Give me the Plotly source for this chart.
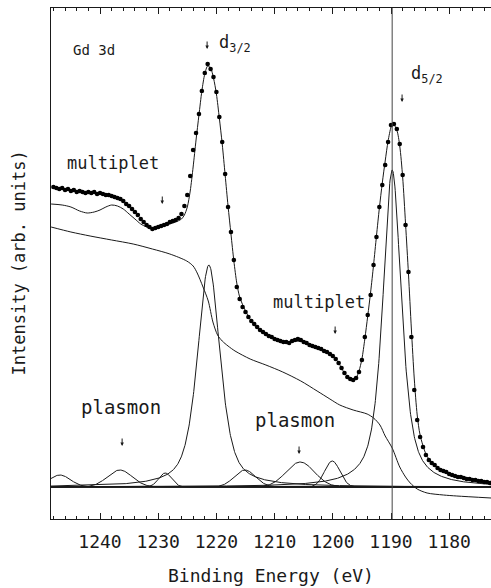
import numpy as np
import plotly.graph_objects as go

# ---------------- data ----------------
energy_ev = [
    1248.0, 1247.5, 1247.0, 1246.5, 1246.0, 1245.5, 1245.0, 1244.5, 1244.0, 1243.5,
    1243.0, 1242.5, 1242.0, 1241.5, 1241.0, 1240.5, 1240.0, 1239.5, 1239.0, 1238.5,
    1238.0, 1237.5, 1237.0, 1236.5, 1236.0, 1235.5, 1235.0, 1234.5, 1234.0, 1233.5,
    1233.0, 1232.5, 1232.0, 1231.5, 1231.0, 1230.5, 1230.0, 1229.5, 1229.0, 1228.5,
    1228.0, 1227.5, 1227.0, 1226.5, 1226.0, 1225.5, 1225.0, 1224.5, 1224.0, 1223.5,
    1223.0, 1222.5, 1222.0, 1221.5, 1221.0, 1220.5, 1220.0, 1219.5, 1219.0, 1218.5,
    1218.0, 1217.5, 1217.0, 1216.5, 1216.0, 1215.5, 1215.0, 1214.5, 1214.0, 1213.5,
    1213.0, 1212.5, 1212.0, 1211.5, 1211.0, 1210.5, 1210.0, 1209.5, 1209.0, 1208.5,
    1208.0, 1207.5, 1207.0, 1206.5, 1206.0, 1205.5, 1205.0, 1204.5, 1204.0, 1203.5,
    1203.0, 1202.5, 1202.0, 1201.5, 1201.0, 1200.5, 1200.0, 1199.5, 1199.0, 1198.5,
    1198.0, 1197.5, 1197.0, 1196.5, 1196.0, 1195.5, 1195.0, 1194.5, 1194.0, 1193.5,
    1193.0, 1192.5, 1192.0, 1191.5, 1191.0, 1190.5, 1190.0, 1189.5, 1189.0, 1188.5,
    1188.0, 1187.5, 1187.0, 1186.5, 1186.0, 1185.5, 1185.0, 1184.5, 1184.0, 1183.5,
    1183.0, 1182.5, 1182.0, 1181.5, 1181.0, 1180.5, 1180.0, 1179.5, 1179.0, 1178.5,
    1178.0, 1177.5, 1177.0, 1176.5, 1176.0, 1175.5, 1175.0, 1174.5, 1174.0, 1173.5,
    1173.0,
]
intensity = [
    300, 299, 298, 299, 297, 298, 296, 297, 295, 296,
    295, 294, 295, 294, 295, 293, 294, 293, 292, 292,
    291, 290, 289, 288, 286, 283, 281, 278, 275, 272,
    268, 265, 262, 260, 258, 259, 260, 261, 262, 263,
    265, 266, 267, 269, 273, 281, 292, 311, 337, 354,
    373, 396, 414, 423, 418, 410, 395, 370, 345, 313,
    280, 255, 227, 200, 188, 180, 175, 170, 166, 163,
    160, 157, 155, 153, 151, 150, 148, 147, 146, 145,
    145, 144, 146, 147, 148, 147, 145, 144, 142, 141,
    140, 139, 138, 136, 135, 133, 131, 128, 124, 119,
    114, 110, 108, 107, 109, 115, 127, 150, 172, 192,
    222, 250, 280, 302, 322, 345, 362, 363, 358, 343,
    312, 262, 215, 150, 97, 67, 50, 40, 32, 27,
    24, 22, 19, 17, 16, 15, 13, 12, 11, 10,
    10, 9, 8, 8, 7, 7, 6, 6, 5, 5,
    4,
]

fit_energy = [
    1248.4, 1246.5, 1245.0, 1243.5, 1242.2, 1241.0, 1240.0, 1239.0, 1238.0, 1237.0,
    1236.0, 1235.0, 1234.0, 1233.0, 1232.0, 1231.0, 1230.0, 1229.0, 1228.0, 1227.0,
    1226.0, 1225.5, 1225.0, 1224.5, 1224.0, 1223.5, 1223.0, 1222.5, 1222.0, 1221.5,
    1221.0, 1220.5, 1220.0, 1219.5, 1219.0, 1218.5, 1218.0, 1217.5, 1217.0, 1216.5,
    1216.0, 1215.0, 1214.0, 1213.0, 1212.0, 1210.0, 1208.0, 1206.5, 1205.0, 1203.0,
    1201.0, 1200.0, 1199.0, 1198.0, 1197.0, 1196.5, 1196.0, 1195.5, 1195.0, 1194.5,
    1194.0, 1193.5, 1193.0, 1192.5, 1192.0, 1191.5, 1191.0, 1190.5, 1190.0, 1189.7,
    1189.0, 1188.5, 1188.0, 1187.5, 1187.0, 1186.5, 1186.0, 1185.5, 1185.0, 1184.0,
    1183.0, 1182.0, 1180.0, 1178.0, 1176.0, 1172.8,
]
fit_intensity = [
    283, 282, 280, 276, 274, 275, 277, 280, 282, 281,
    278, 273, 268, 263, 260, 258, 259, 261, 263, 265,
    268, 272, 280, 296, 320, 347, 372, 396, 413, 421,
    419, 409, 393, 369, 343, 312, 281, 253, 226, 204,
    190, 176, 166, 160, 155, 149, 145, 146, 145, 140,
    135, 131, 124, 114, 108, 107, 109, 116, 128, 148,
    171, 195, 222, 251, 279, 304, 326, 346, 360, 364,
    357, 341, 310, 263, 213, 158, 108, 72, 52, 33,
    24, 19, 13, 10, 7, 4,
]

background_energy = [
    1248.4, 1245.0, 1241.7, 1238.0, 1234.3, 1231.0, 1228.0, 1225.1, 1224.0, 1223.3,
    1222.3, 1221.4, 1220.6, 1219.8, 1219.0, 1218.0, 1216.8, 1214.2, 1211.5, 1208.6,
    1205.5, 1202.7, 1200.5, 1198.8, 1196.5, 1194.1, 1193.0, 1191.9, 1191.0, 1189.8,
    1188.5, 1187.5, 1186.7, 1185.5, 1183.8, 1181.0, 1178.7, 1172.8,
]
background_intensity = [
    260, 255, 251, 247, 243, 238, 233, 226, 221, 214,
    200, 186, 165, 152, 146, 141, 136, 128, 122, 115,
    106, 96, 88, 82, 77, 73, 69, 62, 51, 39,
    20, 10, 4, -2, -6, -8, -9, -11,
]

# fitted components: centre (eV), height, FWHM (eV), Lorentzian fraction
peak_center = [1246.9, 1236.6, 1228.8, 1221.3, 1215.1, 1205.6, 1200.1, 1189.8]
peak_height = [12, 17, 14, 222, 17, 25, 26, 317]
peak_fwhm = [4.3, 5.0, 2.6, 4.6, 4.3, 5.7, 3.1, 3.8]
peak_lorentz = [0.0, 0.0, 0.0, 0.6, 0.0, 0.0, 0.0, 0.7]

tick_values = [1240, 1230, 1220, 1210, 1200, 1190, 1180]
tick_labels = ["1240", "1230", "1220", "1210", "1200", "1190", "1180"]
d52_position = 1189.8

# ---------------- figure ----------------
X_LEFT, X_RIGHT = 1248.42, 1172.82
Y_LOW, Y_HIGH = -32, 479
INK = "#1a1a1a"
MONO = "DejaVu Sans Mono"

fig = go.Figure()

grid = np.linspace(X_LEFT, X_RIGHT, 1200)
for c, h, w, eta in zip(peak_center, peak_height, peak_fwhm, peak_lorentz):
    sigma = w / 2.3548
    gam = w / 2.0
    gauss = np.exp(-((grid - c) ** 2) / (2 * sigma ** 2))
    lor = 1.0 / (1.0 + ((grid - c) / gam) ** 2)
    prof = h * (eta * lor + (1 - eta) * gauss)
    fig.add_trace(go.Scatter(x=grid, y=prof, mode="lines",
                             line=dict(color=INK, width=1), hoverinfo="skip"))

fig.add_trace(go.Scatter(x=background_energy, y=background_intensity, mode="lines",
                         line=dict(color=INK, width=1, shape="spline", smoothing=0.8)))
fig.add_trace(go.Scatter(x=fit_energy, y=fit_intensity, mode="lines",
                         line=dict(color=INK, width=1, shape="spline", smoothing=0.8)))
fig.add_trace(go.Scatter(x=energy_ev, y=intensity, mode="markers",
                         marker=dict(color="black", size=4.6, line=dict(width=0))))

fig.add_shape(type="line", x0=X_LEFT, x1=X_RIGHT, y0=0, y1=0, xref="x", yref="y",
              line=dict(color=INK, width=1.6))
fig.add_shape(type="line", x0=d52_position, x1=d52_position, y0=0, y1=1,
              xref="x", yref="paper", line=dict(color="#444", width=1))

labels = [
    dict(text="Gd 3d", x=1241.0, y=437, size=14),
    dict(text="multiplet", x=1237.8, y=324, size=17),
    dict(text="multiplet", x=1202.4, y=185, size=17),
    dict(text="plasmon", x=1236.4, y=80, size=19),
    dict(text="plasmon", x=1206.5, y=67, size=19),
]
for a in labels:
    fig.add_annotation(text=a["text"], x=a["x"], y=a["y"], xref="x", yref="y",
                       showarrow=False, xanchor="center", yanchor="middle",
                       font=dict(family=MONO, size=a["size"], color=INK))

# small downward arrows (head position in data coordinates)
arrow_heads = [
    (1229.3, 283), (1221.6, 438), (1199.6, 153),
    (1236.2, 41), (1205.8, 33), (1188.1, 385),
]
for hx, hy in arrow_heads:
    fig.add_annotation(x=hx, y=hy, xref="x", yref="y", text="",
                       showarrow=True, ax=0, ay=-9, arrowhead=2,
                       arrowsize=0.7, arrowwidth=1, arrowcolor=INK, standoff=0)

fig.add_annotation(text="d<sub>3/2</sub>", x=1219.9, y=444, xref="x", yref="y",
                   showarrow=False, xanchor="left", yanchor="middle",
                   font=dict(family=MONO, size=17, color=INK))
fig.add_annotation(text="d<sub>5/2</sub>", x=1186.9, y=413, xref="x", yref="y",
                   showarrow=False, xanchor="left", yanchor="middle",
                   font=dict(family=MONO, size=17, color=INK))
fig.add_annotation(text="Intensity (arb. units)", x=-0.075, y=0.5, xref="paper",
                   yref="paper", showarrow=False, textangle=-90,
                   xanchor="center", yanchor="middle",
                   font=dict(family=MONO, size=17, color=INK))
fig.add_annotation(text="Binding Energy (eV)", x=0.5, y=-0.111, xref="paper",
                   yref="paper", showarrow=False, xanchor="center", yanchor="middle",
                   font=dict(family=MONO, size=18, color=INK))

fig.update_layout(
    width=491, height=588,
    margin=dict(l=51, r=0, t=8, b=69),
    plot_bgcolor="white", paper_bgcolor="white",
    showlegend=False,
    xaxis=dict(range=[X_LEFT, X_RIGHT], tickmode="array", tickvals=tick_values,
               ticktext=tick_labels, ticks="inside", ticklen=6, tickwidth=1,
               tickcolor=INK, ticklabelstandoff=6,
               minor=dict(dtick=2, tick0=1180, ticks="inside", ticklen=3,
                          tickcolor=INK, showgrid=False),
               showline=True, linecolor=INK, linewidth=1, mirror="ticks",
               showgrid=False, zeroline=False,
               tickfont=dict(family=MONO, size=18, color=INK)),
    yaxis=dict(range=[Y_LOW, Y_HIGH], showticklabels=False, ticks="",
               showline=True, linecolor=INK, linewidth=1, mirror=False,
               showgrid=False, zeroline=False),
)

fig.write_html("out.html")
